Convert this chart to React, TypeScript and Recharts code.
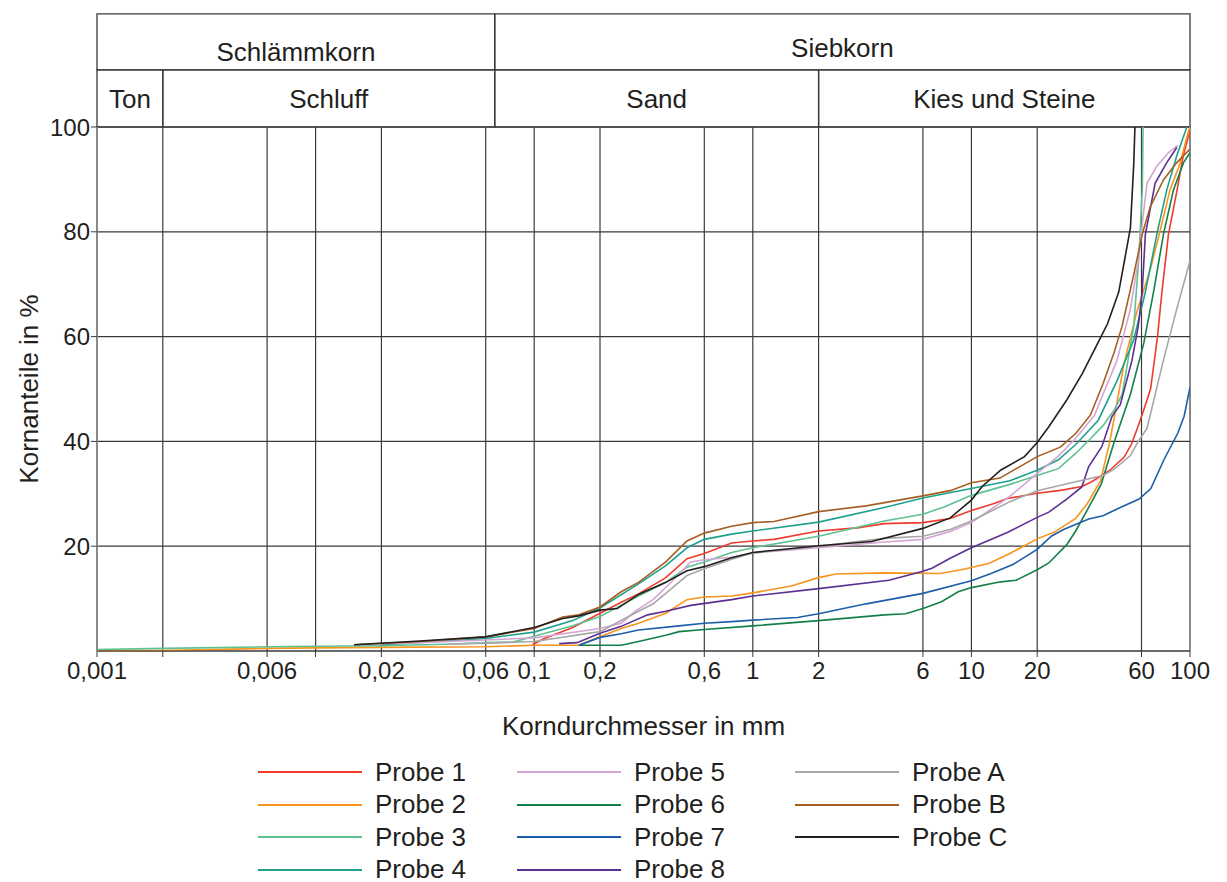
import React from 'react'
import {
  LineChart,
  Line,
  XAxis,
  YAxis,
  CartesianGrid,
  ReferenceArea,
  Legend,
} from 'recharts'

// Korndurchmesser in mm (log axis), Kornanteile in %
const DIAM_TICKS = [0.001, 0.002, 0.006, 0.01, 0.02, 0.06, 0.1, 0.2, 0.6, 1, 2, 6, 10, 20, 60, 100]
const UNLABELED_TICKS = [0.002, 0.01]
const PCT_TICKS = [20, 40, 60, 80, 100]

// header table: [label, from mm, to mm]
const HEADER_TOP: [string, number, number][] = [
  ['Schlämmkorn', 0.001, 0.066],
  ['Siebkorn', 0.066, 100],
]
const HEADER_BOTTOM: [string, number, number][] = [
  ['Ton', 0.001, 0.002],
  ['Schluff', 0.002, 0.066],
  ['Sand', 0.066, 2],
  ['Kies und Steine', 2, 100],
]
const HEADER_ROWS = [100, 110.9, 121.6]

const PROBE_1: [number, number][] = [
  [0.098, 1.2], [0.11, 2.3], [0.15, 4.5], [0.2, 7.2], [0.25, 9.3], [0.3, 10.9], [0.4, 14.0],
  [0.5, 17.6], [0.6, 18.6], [0.8, 20.6], [1, 21.0], [1.25, 21.3], [2, 22.9], [3, 23.5],
  [4, 24.3], [6, 24.5], [8, 25.3], [10, 26.8], [12.8, 28.2], [14.6, 29.1], [20, 30.1],
  [26, 30.7], [32, 31.4], [35.5, 32.3], [43, 34.5], [50, 37], [54, 39.5], [58, 43],
  [62, 46.5], [66, 50], [69, 56], [71, 60], [74.4, 68.5], [79.7, 79.5], [87.3, 88],
  [93.1, 94.5], [100, 99.3],
]
const PROBE_2: [number, number][] = [
  [0.001, 0.1], [0.002, 0.1], [0.006, 0.5], [0.01, 0.6], [0.02, 0.7], [0.06, 0.8], [0.1, 1.1],
  [0.16, 1.1], [0.2, 2.7], [0.25, 4.3], [0.3, 5.3], [0.4, 7.2], [0.5, 9.8], [0.6, 10.3],
  [0.8, 10.5], [1, 11.1], [1.5, 12.4], [2, 14.0], [2.4, 14.7], [4, 14.9], [7.2, 14.8],
  [9, 15.5], [12, 16.7], [15, 18.6], [20, 21.4], [24, 22.7], [30, 25.3], [34, 28.2],
  [39, 32.5], [43, 40], [50, 55], [57, 64.6], [66, 73], [73, 80.2], [81, 88], [90, 93],
  [98, 99], [100, 100],
]
const PROBE_3: [number, number][] = [
  [0.001, 0.3], [0.002, 0.5], [0.006, 0.8], [0.01, 0.9], [0.02, 1.0], [0.04, 1.3], [0.06, 1.6],
  [0.08, 1.7], [0.1, 2.8], [0.15, 4.8], [0.2, 6.6], [0.3, 10.5], [0.4, 13.1], [0.5, 16.0],
  [0.6, 17.0], [0.8, 18.8], [1, 19.7], [2, 21.9], [4, 24.8], [6, 26.1], [7.5, 27.5],
  [10, 29.7], [15, 31.8], [20, 33.5], [25, 34.8], [30, 37.7], [35, 40.5], [40, 43], [45, 46],
  [49, 49], [55.3, 62], [58.3, 75], [60.5, 88], [61, 100],
]
const PROBE_4: [number, number][] = [
  [0.02, 1.2], [0.04, 1.9], [0.06, 2.4], [0.1, 3.6], [0.15, 5.8], [0.2, 8.2], [0.3, 12.8],
  [0.4, 16.3], [0.5, 19.7], [0.6, 21.3], [0.8, 22.3], [1, 22.9], [2, 24.6], [4, 27.4],
  [6, 29.2], [10, 31.0], [15, 32.5], [20, 34.5], [25, 36.5], [30, 39.4], [38, 44],
  [46.4, 51.6], [55.3, 59.4], [62.5, 68.5], [70.5, 79.5], [78.3, 88], [87, 94.5], [96.7, 100],
]
const PROBE_5: [number, number][] = [
  [0.0165, 1.3], [0.03, 1.6], [0.06, 2.1], [0.1, 2.5], [0.2, 4.3], [0.25, 5.3], [0.29, 7.6],
  [0.35, 9.8], [0.43, 13.4], [0.52, 17.0], [0.6, 17.4], [0.8, 17.9], [1, 18.7], [2, 19.7],
  [4, 20.8], [6, 21.3], [8, 22.8], [10, 24.5], [15, 29.5], [20, 33.9], [25, 37.2], [30, 40.6],
  [36.6, 45], [40, 49], [46.4, 55.5], [53.4, 65.3], [58.3, 75], [61, 83], [63.6, 89.3],
  [70.5, 92.5], [79.7, 95.1], [88, 96.5],
]
const PROBE_6: [number, number][] = [
  [0.16, 1.1], [0.25, 1.1], [0.3, 1.8], [0.4, 3.0], [0.46, 3.7], [0.6, 4.1], [1, 4.8],
  [2, 5.8], [4, 6.9], [5, 7.1], [6, 8.1], [7.3, 9.4], [8.7, 11.3], [10, 12.1], [13.6, 13.2],
  [16, 13.5], [20, 15.5], [22.6, 16.8], [27.3, 20.3], [30, 22.9], [34.4, 27.4], [39.3, 31.9],
  [45, 39.9], [53.4, 49], [61.5, 58.8], [68.1, 68.5], [75.6, 79.5], [84, 88], [93.4, 93.2],
  [100, 95.1],
]
const PROBE_7: [number, number][] = [
  [0.16, 1.1], [0.2, 2.6], [0.25, 3.3], [0.3, 4.0], [0.46, 4.8], [0.6, 5.3], [0.8, 5.6],
  [1, 5.9], [1.6, 6.4], [2, 7.1], [3.3, 9.0], [6, 11], [10, 13.4], [12.3, 14.8], [15.5, 16.5],
  [20, 19.4], [23.2, 21.9], [26.4, 23.2], [34.4, 25.2], [40, 25.8], [48, 27.4], [58.5, 29],
  [66.2, 31], [76, 36.5], [88, 41.6], [94, 44.8], [100, 50.3],
]
const PROBE_8: [number, number][] = [
  [0.13, 1.4], [0.157, 1.6], [0.2, 3.4], [0.25, 4.7], [0.33, 6.9], [0.4, 7.6], [0.52, 8.7],
  [0.8, 9.8], [1, 10.5], [2, 11.9], [4.2, 13.5], [6, 15.2], [6.6, 15.8], [8, 17.7],
  [10, 19.7], [14.6, 22.6], [20, 25.5], [22.6, 26.5], [27.3, 29], [32, 31.3], [34.4, 35.2],
  [39.5, 39], [44, 44.8], [48, 47], [54.3, 55.5], [58, 62], [60.4, 68.5], [62.5, 79.5],
  [69.3, 89.3], [78.3, 93.2], [87, 96.1],
]
const PROBE_A: [number, number][] = [
  [0.04, 1.3], [0.06, 1.5], [0.1, 1.8], [0.2, 3.7], [0.3, 7.6], [0.35, 9.0], [0.4, 11.0],
  [0.5, 14.4], [0.6, 15.7], [0.8, 17.5], [1, 18.7], [2, 20.0], [4, 21.5], [6, 21.9], [8, 23.2],
  [10, 24.8], [15, 28.5], [20, 30.6], [30, 32.3], [40, 33.5], [45, 34.7], [53.4, 37.3],
  [58, 40], [63.6, 42.5], [75.6, 55.5], [87, 65.3], [100, 74.5],
]
const PROBE_B: [number, number][] = [
  [0.015, 1.2], [0.03, 1.8], [0.06, 2.7], [0.1, 4.3], [0.135, 6.5], [0.16, 6.9], [0.2, 8.4],
  [0.25, 11.3], [0.3, 13.1], [0.4, 17.0], [0.5, 21.0], [0.6, 22.5], [0.8, 23.8], [1, 24.5],
  [1.25, 24.7], [2, 26.6], [3.3, 27.7], [6, 29.6], [8, 30.6], [10, 32.1], [13.5, 33.0],
  [20, 37.1], [25.5, 38.9], [30, 41.5], [35, 45], [40, 51], [45, 57], [48.9, 62], [55.3, 71.8],
  [60.4, 79.5], [65.7, 84.7], [75.6, 89.9], [87, 93.2], [100, 95.8],
]
const PROBE_C: [number, number][] = [
  [0.015, 1.2], [0.03, 1.9], [0.06, 2.7], [0.1, 4.5], [0.135, 6.2], [0.16, 6.7], [0.2, 7.8],
  [0.24, 8.1], [0.3, 10.8], [0.4, 13.1], [0.5, 15.3], [0.6, 16.1], [0.8, 17.8], [1, 18.8],
  [2, 20.1], [3.5, 20.9], [6, 23.4], [8, 25.4], [10, 28.8], [11.2, 31.4], [13.6, 34.5],
  [17.5, 37.1], [20, 39.8], [22.6, 42.8], [27.3, 47.9], [32.2, 53], [37.6, 58.5], [42, 62.5],
  [47.2, 68.5], [50.4, 75], [53.4, 80.8], [55.3, 93], [56, 100],
]

const SERIES = [
  { name: 'Probe 1', color: '#ee3b2b', points: PROBE_1 },
  { name: 'Probe 2', color: '#f7941d', points: PROBE_2 },
  { name: 'Probe 3', color: '#5dc290', points: PROBE_3 },
  { name: 'Probe 4', color: '#1fa08f', points: PROBE_4 },
  { name: 'Probe 5', color: '#d5a5d5', points: PROBE_5 },
  { name: 'Probe 6', color: '#138049', points: PROBE_6 },
  { name: 'Probe 7', color: '#1c5ea8', points: PROBE_7 },
  { name: 'Probe 8', color: '#5c2f92', points: PROBE_8 },
  { name: 'Probe A', color: '#a7a7a7', points: PROBE_A },
  { name: 'Probe B', color: '#a65f22', points: PROBE_B },
  { name: 'Probe C', color: '#231f20', points: PROBE_C },
]

const FONT = '"Liberation Sans", Arial, Helvetica, sans-serif'
const INK = '#231f20'
const RULE = '#3a3a3a'

const fmtDiam = (v: number) =>
  UNLABELED_TICKS.includes(v) ? '' : String(v).replace('.', ',')

function LegendGrid() {
  return (
    <div
      style={{
        display: 'grid',
        gridAutoFlow: 'column',
        gridTemplateRows: 'repeat(4, 32.5px)',
        gridTemplateColumns: '259px 278px 300px',
        fontFamily: FONT,
        fontSize: 26,
        color: INK,
      }}
    >
      {SERIES.map((s) => (
        <div key={s.name} style={{ display: 'flex', alignItems: 'center' }}>
          <span
            style={{
              display: 'inline-block',
              width: 104,
              height: 2,
              background: s.color,
              marginRight: 13,
            }}
          />
          <span>{s.name}</span>
        </div>
      ))}
    </div>
  )
}

export default function App() {
  return (
    <div style={{ width: 1219, height: 874, fontFamily: FONT }}>
      <LineChart
        width={1219}
        height={874}
        margin={{ top: 119, right: 37, bottom: 147, left: 29 }}
      >
        <CartesianGrid stroke={RULE} strokeWidth={1.2} />
        <XAxis
          dataKey="d"
          type="number"
          scale="log"
          domain={[0.001, 100]}
          allowDataOverflow
          ticks={DIAM_TICKS}
          interval={0}
          tickFormatter={fmtDiam}
          height={84}
          tickSize={6}
          tickMargin={5}
          stroke={RULE}
          tick={{ fontSize: 24, fill: INK }}
          label={{
            value: 'Korndurchmesser in mm',
            position: 'insideBottom',
            offset: 0,
            fontSize: 26,
            fill: INK,
          }}
        />
        <YAxis
          type="number"
          domain={[0, 100]}
          ticks={PCT_TICKS}
          interval={0}
          width={60}
          tickSize={6}
          tickMargin={1}
          axisLine={{ stroke: '#8a8a8a', strokeWidth: 2 }}
          tickLine={{ stroke: RULE }}
          tick={{ fontSize: 24, fill: INK }}
          label={{
            value: 'Kornanteile in %',
            angle: -90,
            position: 'left',
            offset: 8,
            fontSize: 26,
            fill: INK,
            style: { textAnchor: 'middle' },
          }}
        />
        {HEADER_TOP.map(([label, x1, x2], i) => (
          <ReferenceArea
            key={'t' + label}
            x1={x1}
            x2={x2}
            y1={HEADER_ROWS[1]}
            y2={HEADER_ROWS[2]}
            ifOverflow="visible"
            fill="none"
            stroke={RULE}
            strokeWidth={1.3}
            label={{
              value: label,
              position: 'insideBottom',
              offset: i === 0 ? 9 : 13,
              fontSize: 26,
              fill: INK,
            }}
          />
        ))}
        {HEADER_BOTTOM.map(([label, x1, x2]) => (
          <ReferenceArea
            key={'b' + label}
            x1={x1}
            x2={x2}
            y1={HEADER_ROWS[0]}
            y2={HEADER_ROWS[1]}
            ifOverflow="visible"
            fill="none"
            stroke={RULE}
            strokeWidth={1.3}
            label={{ value: label, position: 'center', fontSize: 26, fill: INK }}
          />
        ))}
        {SERIES.map((s) => (
          <Line
            key={s.name}
            name={s.name}
            data={s.points.map(([d, p]) => ({ d, p }))}
            dataKey="p"
            type="linear"
            stroke={s.color}
            strokeWidth={1.6}
            dot={false}
            activeDot={false}
            isAnimationActive={false}
          />
        ))}
        <Legend
          layout="vertical"
          align="center"
          verticalAlign="middle"
          wrapperStyle={{ left: 250, top: 748, width: 900, height: 130 }}
          content={() => <LegendGrid />}
        />
      </LineChart>
    </div>
  )
}
